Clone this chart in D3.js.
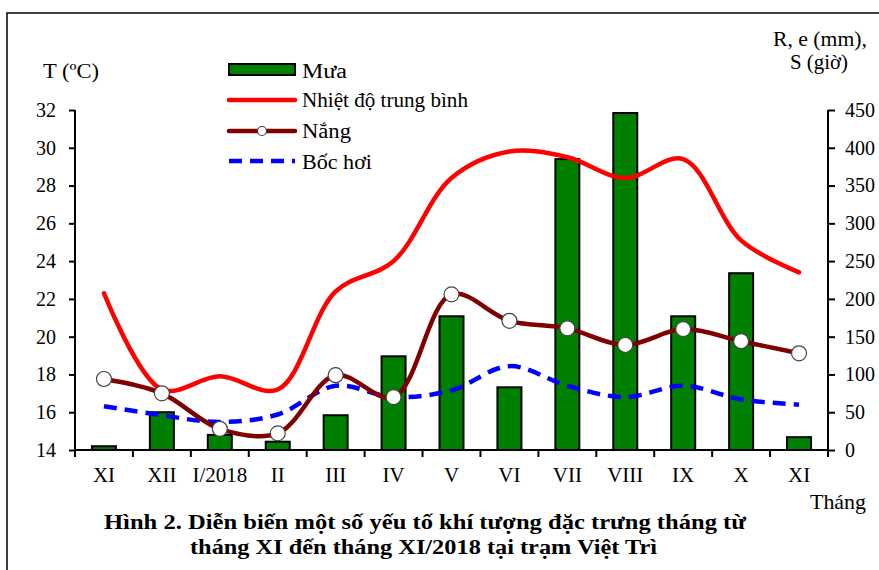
<!DOCTYPE html>
<html>
<head>
<meta charset="utf-8">
<script src="https://cdn.jsdelivr.net/npm/d3@7"></script>
<style>
    body { margin: 0; background: #fff; }
    svg text { font-family: 'Liberation Serif', 'Times New Roman', serif; }
</style>
</head>
<body>
<svg id="chart" width="879" height="570"></svg>
<script>
// Months from XI to XI/2018
const months = ["XI", "XII", "I/2018", "II", "III", "IV", "V", "VI", "VII", "VIII", "IX", "X", "XI"];
// Rainfall (mm)
const rain = [5, 50, 20, 11, 46, 124, 177, 83, 385, 446, 177, 234, 17];
// Mean temperature (°C)
const temperature = [22.3, 17.2, 17.9, 17.2, 22.4, 24.0, 28.4, 29.8, 29.5, 28.4, 29.4, 25.1, 23.4];
// Sunshine hours
const sunshine = [94, 75, 28, 22, 99, 70, 206, 171, 161, 139, 160, 144, 128];
// Evaporation (mm)
const evaporation = [58, 46, 37, 47, 85, 70, 79, 111, 85, 70, 85, 67, 60];

const leftTicks = [14, 16, 18, 20, 22, 24, 26, 28, 30, 32];
const rightTicks = [0, 50, 100, 150, 200, 250, 300, 350, 400, 450];

let svg = d3.select("#chart");

// Outer frame
svg.append("rect")
    .attr("x", 7).attr("y", 13)
    .attr("width", 900).attr("height", 600)
    .attr("fill", "none")
    .attr("stroke", "#000")
    .attr("stroke-width", 1.5);

let plotLeft = 75, plotRight = 828, plotTop = 110, plotBottom = 450;

let x = d3.scaleBand().domain(d3.range(months.length)).range([plotLeft, plotRight]);
let yT = d3.scaleLinear().domain([14, 32]).range([plotBottom, plotTop]);
let yR = d3.scaleLinear().domain([0, 450]).range([plotBottom, plotTop]);
let cx = (i) => x(i) + x.bandwidth() / 2;

// Bars
svg.append("g")
    .selectAll("rect")
    .data(rain)
    .enter()
    .append("rect")
    .attr("x", (d, i) => cx(i) - 12)
    .attr("width", 24)
    .attr("y", (d) => yR(d))
    .attr("height", (d) => plotBottom - yR(d))
    .attr("fill", "#008000")
    .attr("stroke", "#000")
    .attr("stroke-width", 2);

// Axes
let xAxis = d3.axisBottom(x).tickSize(0).tickFormat((i) => months[i]);
let gx = svg.append("g").attr("transform", `translate(0,${plotBottom})`).call(xAxis);
gx.select(".domain").remove();
gx.selectAll("text").attr("y", 32).attr("dy", 0).attr("font-size", 21).attr("fill", "#000");

svg.append("line")
    .attr("x1", plotLeft).attr("x2", plotRight).attr("y1", plotBottom).attr("y2", plotBottom)
    .attr("stroke", "#000").attr("stroke-width", 2);
svg.append("g")
    .selectAll("line")
    .data(d3.range(months.length + 1))
    .enter()
    .append("line")
    .attr("x1", (i) => plotLeft + i * x.step())
    .attr("x2", (i) => plotLeft + i * x.step())
    .attr("y1", plotBottom).attr("y2", plotBottom + 7)
    .attr("stroke", "#000").attr("stroke-width", 2);

let gl = svg.append("g").attr("transform", `translate(${plotLeft},0)`)
    .call(d3.axisLeft(yT).tickValues(leftTicks).tickSize(6).tickPadding(13));
let gr = svg.append("g").attr("transform", `translate(${plotRight},0)`)
    .call(d3.axisRight(yR).tickValues(rightTicks).tickSize(7).tickPadding(10));
[gl, gr].forEach((g) => {
    g.select(".domain").attr("stroke-width", 2).attr("d", `M0,${plotTop}V${plotBottom}`);
    g.selectAll(".tick line").attr("stroke-width", 2);
    g.selectAll("text").attr("font-size", 20).attr("fill", "#000");
});

// Lines
let lineT = d3.line().x((d, i) => cx(i)).y((d) => yT(d)).curve(d3.curveCatmullRom);
let lineR = d3.line().x((d, i) => cx(i)).y((d) => yR(d)).curve(d3.curveCatmullRom);

svg.append("path")
    .attr("d", lineR(evaporation))
    .attr("fill", "none")
    .attr("stroke", "#0000ff")
    .attr("stroke-width", 4.5)
    .attr("stroke-dasharray", "13,8");

svg.append("path")
    .attr("d", lineT(temperature))
    .attr("fill", "none")
    .attr("stroke", "#ff0000")
    .attr("stroke-width", 4.5)
    .attr("stroke-linecap", "round");

svg.append("path")
    .attr("d", lineR(sunshine))
    .attr("fill", "none")
    .attr("stroke", "#800000")
    .attr("stroke-width", 4.5)
    .attr("stroke-linecap", "round");

svg.append("g")
    .selectAll("circle")
    .data(sunshine)
    .enter()
    .append("circle")
    .attr("cx", (d, i) => cx(i))
    .attr("cy", (d) => yR(d))
    .attr("r", 7.5)
    .attr("fill", "#fff")
    .attr("stroke", "#444")
    .attr("stroke-width", 1.2);

// Legend
let legend = svg.append("g").attr("font-size", 20);
legend.append("rect")
    .attr("x", 229).attr("y", 64).attr("width", 66).attr("height", 11)
    .attr("fill", "#008000").attr("stroke", "#000").attr("stroke-width", 2);
legend.append("line")
    .attr("x1", 229).attr("x2", 295).attr("y1", 100).attr("y2", 100)
    .attr("stroke", "#ff0000").attr("stroke-width", 4.5).attr("stroke-linecap", "round");
legend.append("line")
    .attr("x1", 229).attr("x2", 295).attr("y1", 131).attr("y2", 131)
    .attr("stroke", "#800000").attr("stroke-width", 4.5).attr("stroke-linecap", "round");
legend.append("circle")
    .attr("cx", 262).attr("cy", 131).attr("r", 4.5)
    .attr("fill", "#fff").attr("stroke", "#444").attr("stroke-width", 1.2);
legend.append("line")
    .attr("x1", 229).attr("x2", 295).attr("y1", 161).attr("y2", 161)
    .attr("stroke", "#0000ff").attr("stroke-width", 4.5).attr("stroke-dasharray", "13,8");
[["Mưa", 78, 45], ["Nhiệt độ trung bình", 107, 166], ["Nắng", 138, 49], ["Bốc hơi", 169, 70]].forEach(([t, y, w]) => {
    legend.append("text").attr("x", 302).attr("y", y)
        .attr("textLength", w).attr("lengthAdjust", "spacingAndGlyphs").text(t);
});

// Axis titles
let titles = svg.append("g").attr("font-size", 21);
titles.append("text").attr("x", 43).attr("y", 78)
    .attr("textLength", 56).attr("lengthAdjust", "spacingAndGlyphs").text("T (ºC)");
titles.append("text").attr("x", 773).attr("y", 46)
    .attr("textLength", 94).attr("lengthAdjust", "spacingAndGlyphs").text("R, e (mm),");
titles.append("text").attr("x", 790).attr("y", 69)
    .attr("textLength", 58).attr("lengthAdjust", "spacingAndGlyphs").text("S (giờ)");
titles.append("text").attr("x", 810).attr("y", 509)
    .attr("textLength", 56).attr("lengthAdjust", "spacingAndGlyphs").text("Tháng");

// Caption
let caption = svg.append("g").attr("font-size", 22).attr("font-weight", "bold");
caption.append("text").attr("x", 104).attr("y", 529)
    .attr("textLength", 642).attr("lengthAdjust", "spacingAndGlyphs")
    .text("Hình 2. Diễn biến một số yếu tố khí tượng đặc trưng tháng từ");
caption.append("text").attr("x", 190).attr("y", 554)
    .attr("textLength", 467).attr("lengthAdjust", "spacingAndGlyphs")
    .text("tháng XI đến tháng XI/2018 tại trạm Việt Trì");
</script>
</body>
</html>
